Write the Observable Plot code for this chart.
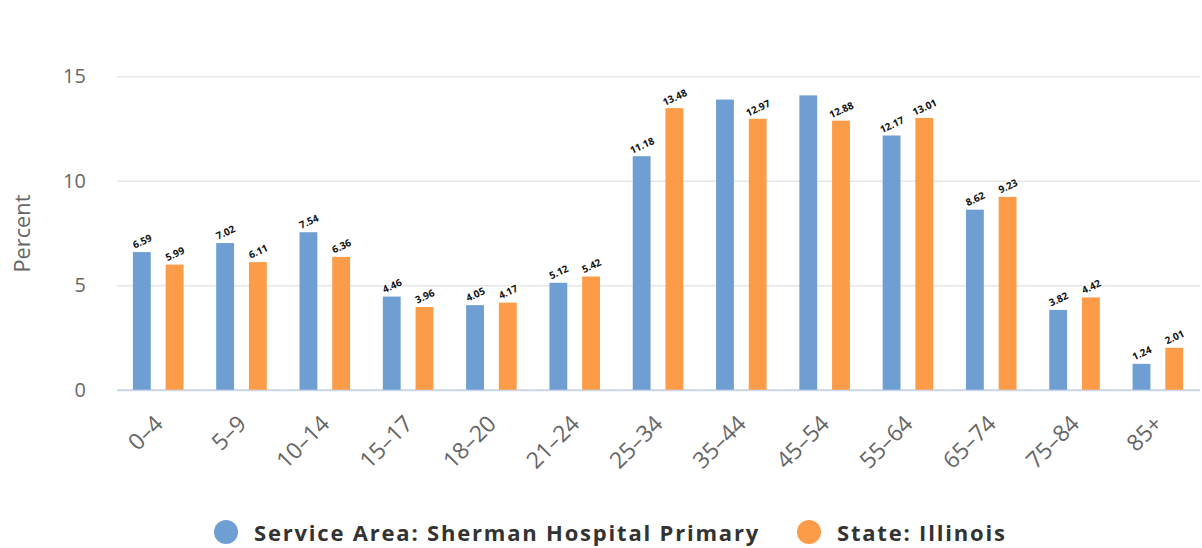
<!DOCTYPE html>
<html>
<head>
<meta charset="utf-8">
<script src="https://cdn.jsdelivr.net/npm/d3@7"></script>
<script src="https://cdn.jsdelivr.net/npm/@observablehq/plot@0.6"></script>
<style>
  html, body { margin: 0; padding: 0; background: #fff; overflow: hidden; }
  #chart { width: 1202px; height: 548px; overflow: hidden; position: relative; }
  #chart svg { display: block; }
  .legend { position: absolute; left: 0; top: 0; width: 1202px; height: 548px;
    font-family: "Open Sans", sans-serif; font-weight: 700; font-size: 22px; letter-spacing: 1.8px; color: #333; }
  .legend span.item { position: absolute; display: flex; align-items: center; gap: 16px; top: 518px; height: 28px; line-height: 28px; white-space: nowrap; }
  .legend span.dot { width: 24px; height: 24px; border-radius: 50%; display: inline-block; flex: none; }
</style>
</head>
<body>
<div id="chart"></div>
<script>
const ageGroups = ["0–4","5–9","10–14","15–17","18–20","21–24","25–34","35–44","45–54","55–64","65–74","75–84","85+"];
const seriesNames = ["Service Area: Sherman Hospital Primary", "State: Illinois"];
const serviceArea = [6.59, 7.02, 7.54, 4.46, 4.05, 5.12, 11.18, 13.89, 14.09, 12.17, 8.62, 3.82, 1.24];
const illinois = [5.99, 6.11, 6.36, 3.96, 4.17, 5.42, 13.48, 12.97, 12.88, 13.01, 9.23, 4.42, 2.01];
// labels hidden in the reference (overlapping)
const serviceAreaLabelShown = [true, true, true, true, true, true, true, false, false, true, true, true, true];
const colors = ["#6f9fd2", "#fc9c48"];
const yTicks = [0, 5, 10, 15];

const data = [];
ageGroups.forEach((a, i) => {
  data.push({age: a, series: seriesNames[0], value: serviceArea[i], label: serviceAreaLabelShown[i] ? serviceArea[i].toFixed(2) : ""});
  data.push({age: a, series: seriesNames[1], value: illinois[i], label: illinois[i].toFixed(2)});
});

const chart = Plot.plot({
  width: 1212,
  height: 500,
  marginLeft: 115,
  marginRight: 0,
  marginTop: 77,
  marginBottom: 107,
  style: {fontFamily: "'Open Sans', sans-serif", background: "#fff"},
  fx: {domain: ageGroups, padding: 0, label: null},
  x: {domain: seriesNames, paddingInner: 0.44, paddingOuter: 0.46, axis: null},
  y: {domain: [0, 15], label: null},
  color: {domain: seriesNames, range: colors},
  marks: [
    Plot.gridY(yTicks, {stroke: "#e6e6e6", strokeOpacity: 1, strokeWidth: 1.5}),
    Plot.ruleY([0], {stroke: "#ccd6eb", strokeWidth: 2}),
    Plot.barY(data, {fx: "age", x: "series", y: "value", fill: "series"}),
    Plot.text(data, {fx: "age", x: "series", y: "value", text: "label", rotate: -25, dy: -11,
      fontSize: 10, fontWeight: "bold", fill: "#111", stroke: "#fff", strokeWidth: 2, paintOrder: "stroke"}),
    Plot.axisY(yTicks, {tickSize: 0, tickPadding: 32, fontSize: 20, fill: "#666",
      label: "Percent", labelAnchor: "center", labelArrow: "none", labelOffset: 104}),
    Plot.axisFx({anchor: "bottom", tickSize: 0, tickRotate: -45, fontSize: 23, fill: "#666", tickPadding: 30, label: null})
  ]
});
chart.querySelectorAll("[aria-label='y-axis label']").forEach(el => {
  el.setAttribute("font-size", "22");
});
document.getElementById("chart").appendChild(chart);

const legend = document.createElement("div");
legend.className = "legend";
const legendLeft = [214, 797];
seriesNames.forEach((s, i) => {
  const item = document.createElement("span");
  item.className = "item";
  item.style.left = legendLeft[i] + "px";
  const dot = document.createElement("span");
  dot.className = "dot";
  dot.style.background = colors[i];
  const t = document.createElement("span");
  t.textContent = s;
  item.appendChild(dot);
  item.appendChild(t);
  legend.appendChild(item);
});
document.getElementById("chart").appendChild(legend);
</script>
</body>
</html>
